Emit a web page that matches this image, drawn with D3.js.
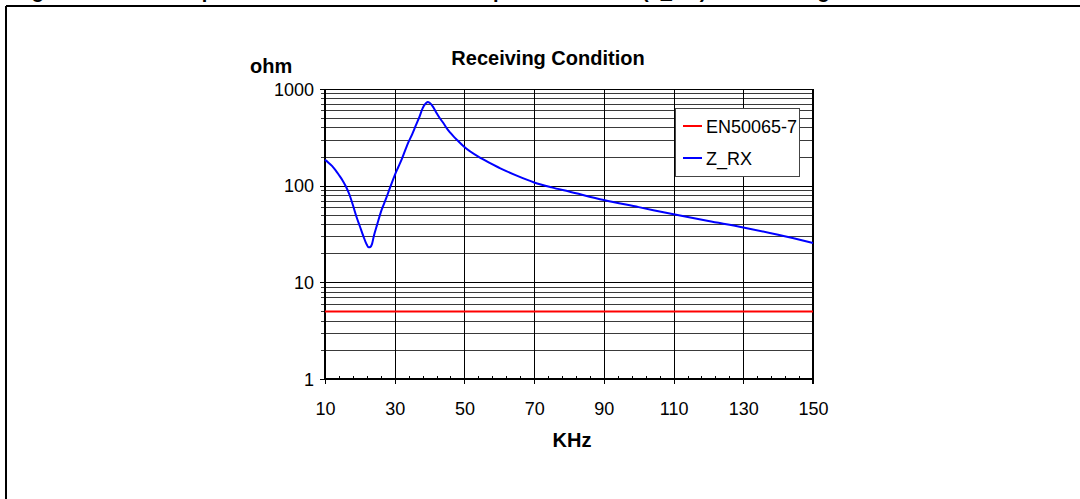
<!DOCTYPE html>
<html>
<head>
<meta charset="utf-8">
<script src="https://cdn.jsdelivr.net/npm/d3@7/dist/d3.min.js"></script>
<style>
  html, body { margin: 0; padding: 0; background: #fff; }
  svg { display: block; font-family: "Liberation Sans", Arial, sans-serif; }
</style>
</head>
<body>
<svg id="chart" width="1080" height="499"></svg>
<script>
// Frequency points (kHz) and measured impedance of the receiver (ohm)
const freqKHz = [10, 11, 12, 13, 14, 15, 16, 17, 18, 19, 20, 21, 22, 22.5, 23, 23.5, 24, 25, 26, 27,
                 28, 29, 30, 31, 32, 33, 34, 35, 36, 37, 38, 39, 39.5, 40, 41, 42, 43, 44, 45, 46,
                 47, 48, 50, 55, 60, 65, 70, 75, 80, 90, 100, 110, 120, 130, 140, 150];
const zRx = [185, 173, 160, 145, 129, 114, 98, 81, 63, 48, 38, 30, 24.5, 23, 23.2, 25, 30, 40, 53, 66,
             82, 103, 128, 155, 187, 232, 285, 340, 415, 505, 630, 715, 735, 721, 653, 565, 495, 442, 389, 351,
             320, 295, 251, 190, 153, 127, 108, 96, 87, 71, 60, 50.5, 43, 37, 31, 25.5];

// EN50065-7 limit (ohm), constant across the band
const limitFreq = [10, 150];
const limitOhm = [5, 5];

const seriesNames = ["EN50065-7", "Z_RX"];
const seriesColors = ["#ff0000", "#0000ff"];

const xTicks = [10, 30, 50, 70, 90, 110, 130, 150];
const yTicks = [1, 10, 100, 1000];

const chartTitle = "Receiving Condition";
const yTitle = "ohm";
const xTitle = "KHz";
const caption = "Figure 6. Modem Impedance on the Mains Line: Impedance Curve (Z_RX) in Receiving Condition";

const svg = d3.select("#chart");

// page frame (top and left rules)
svg.append("line").attr("x1", 6).attr("x2", 1080).attr("y1", 6).attr("y2", 6)
  .attr("stroke", "#000").attr("stroke-width", 2);
svg.append("line").attr("x1", 6).attr("x2", 6).attr("y1", 6).attr("y2", 499)
  .attr("stroke", "#000").attr("stroke-width", 2);

// caption line sitting above the frame
svg.append("text").attr("x", 14).attr("y", -2)
  .attr("font-size", 20).attr("font-weight", "bold").text(caption);

const plot = { left: 325, right: 813, top: 89, bottom: 379 };

const x = d3.scaleLinear().domain([10, 150]).range([plot.left, plot.right]);
const y = d3.scaleLog().domain([1, 1000]).range([plot.bottom, plot.top]);

// horizontal grid at every log subdivision
const yGrid = [];
for (let dec = 1; dec < 1000; dec *= 10) {
  for (let m = 1; m < 10; m++) yGrid.push(dec * m);
}
yGrid.push(1000);

const g = svg.append("g").attr("shape-rendering", "crispEdges");

g.selectAll("line.hgrid").data(yGrid.filter(v => v > 1)).join("line")
  .attr("class", "hgrid")
  .attr("x1", plot.left - 4).attr("x2", plot.right)
  .attr("y1", d => Math.round(y(d)) + 0.5).attr("y2", d => Math.round(y(d)) + 0.5)
  .attr("stroke", d => yTicks.includes(d) ? "#000" : "#3a3a3a")
  .attr("stroke-width", 1);

// vertical grid at labelled frequencies
g.selectAll("line.vgrid").data(xTicks.slice(1, -1)).join("line")
  .attr("class", "vgrid")
  .attr("x1", d => Math.round(x(d)) + 0.5).attr("x2", d => Math.round(x(d)) + 0.5)
  .attr("y1", plot.top).attr("y2", plot.bottom + 5)
  .attr("stroke", "#000").attr("stroke-width", 1);

// minor x ticks every 4 kHz, pointing into the plot
const xMinor = d3.range(10, 150.01, 4).filter(v => !xTicks.includes(v));
g.selectAll("line.xminor").data(xMinor).join("line")
  .attr("class", "xminor")
  .attr("x1", d => Math.round(x(d)) + 0.5).attr("x2", d => Math.round(x(d)) + 0.5)
  .attr("y1", plot.bottom - 3).attr("y2", plot.bottom)
  .attr("stroke", "#000").attr("stroke-width", 1);

// axes using d3 axis generators (ticks drawn outward)
const xAxis = d3.axisBottom(x).tickValues(xTicks).tickSize(5).tickFormat(d3.format("d"));
const xg = svg.append("g").attr("transform", `translate(0,${plot.bottom})`).call(xAxis);
xg.select(".domain").remove();
xg.selectAll(".tick line").attr("stroke", "#000").attr("shape-rendering", "crispEdges");
xg.selectAll(".tick text").attr("font-size", 18).attr("font-family", "Liberation Sans, Arial, sans-serif")
  .attr("fill", "#000").attr("dy", 0).attr("y", 36);

const yAxis = d3.axisLeft(y).tickValues(yTicks).tickSize(5).tickFormat(d3.format("d"));
const yg = svg.append("g").attr("transform", `translate(${plot.left},0)`).call(yAxis);
yg.select(".domain").remove();
yg.selectAll(".tick line").attr("stroke", "#000").attr("shape-rendering", "crispEdges");
yg.selectAll(".tick text").attr("font-size", 18).attr("font-family", "Liberation Sans, Arial, sans-serif")
  .attr("fill", "#000").attr("x", -11).attr("dy", "0.34em");

// plot frame
g.append("line").attr("x1", plot.left).attr("x2", plot.left).attr("y1", plot.top).attr("y2", plot.bottom + 1)
  .attr("stroke", "#000").attr("stroke-width", 2);
g.append("line").attr("x1", plot.left - 1).attr("x2", plot.right + 1).attr("y1", plot.bottom).attr("y2", plot.bottom)
  .attr("stroke", "#000").attr("stroke-width", 2);
g.append("line").attr("x1", plot.right).attr("x2", plot.right).attr("y1", plot.top).attr("y2", plot.bottom + 5)
  .attr("stroke", "#000").attr("stroke-width", 2);

// series
const line = d3.line().x(d => x(d[0])).y(d => y(d[1]));
svg.append("path")
  .datum(limitFreq.map((f, i) => [f, limitOhm[i]]))
  .attr("d", line).attr("fill", "none")
  .attr("stroke", seriesColors[0]).attr("stroke-width", 2);
svg.append("path")
  .datum(freqKHz.map((f, i) => [f, zRx[i]]))
  .attr("d", line.curve(d3.curveMonotoneX)).attr("fill", "none")
  .attr("stroke", seriesColors[1]).attr("stroke-width", 2).attr("stroke-linejoin", "round");

// titles
svg.append("text").attr("x", 548).attr("y", 65).attr("text-anchor", "middle")
  .attr("font-size", 20).attr("font-weight", "bold").text(chartTitle);
svg.append("text").attr("x", 250).attr("y", 73)
  .attr("font-size", 20).attr("font-weight", "bold").text(yTitle);
svg.append("text").attr("x", 572).attr("y", 447).attr("text-anchor", "middle")
  .attr("font-size", 20).attr("font-weight", "bold").text(xTitle);

// legend
const lg = svg.append("g").attr("transform", "translate(675,108)");
lg.append("rect").attr("x", 0.5).attr("y", 0.5).attr("width", 124).attr("height", 68)
  .attr("fill", "#fff").attr("stroke", "#444").attr("stroke-width", 1).attr("shape-rendering", "crispEdges");
seriesNames.forEach((name, i) => {
  const cy = 18 + i * 32;
  lg.append("line").attr("x1", 8).attr("x2", 27).attr("y1", cy).attr("y2", cy)
    .attr("stroke", seriesColors[i]).attr("stroke-width", 2);
  lg.append("text").attr("x", 31).attr("y", cy + 7).attr("font-size", 18).text(name);
});
</script>
</body>
</html>
